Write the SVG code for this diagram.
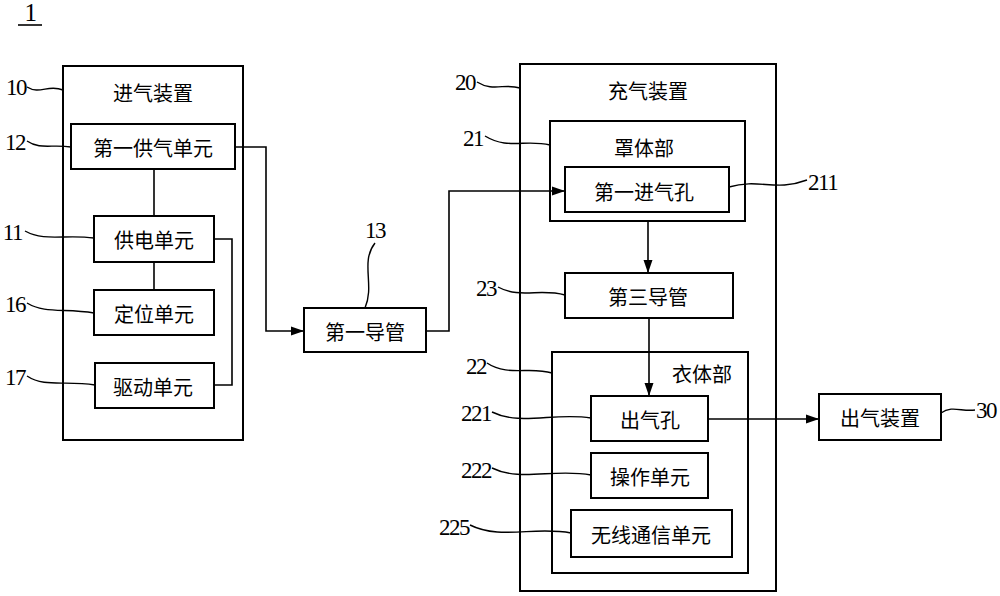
<svg xmlns="http://www.w3.org/2000/svg" width="1000" height="596" viewBox="0 0 1000 596">
<style>
.box{fill:none;stroke:#000;stroke-width:2}
.ln{fill:none;stroke:#000;stroke-width:1.6}
.ld{fill:none;stroke:#000;stroke-width:1.4}
.t{font-family:"Noto Sans CJK SC","Noto Sans CJK TC",sans-serif;font-size:20px;text-anchor:middle;dominant-baseline:central;fill:#000}
.n{font-family:"Liberation Serif",serif;font-size:23px;fill:#000;letter-spacing:-1.5px}
.e{text-anchor:end}
.m{text-anchor:middle}
</style>
<defs>
<marker id="ar" markerUnits="userSpaceOnUse" markerWidth="14" markerHeight="10" refX="13" refY="5" orient="auto">
<path d="M0,0.5 L13,5 L0,9.5 Z" fill="#000"/>
</marker>
</defs>
<rect width="1000" height="596" fill="#fff"/>

<g id="fig-label">
<text class="n m" x="30" y="21" style="font-size:25px">1</text>
<line x1="18" y1="25" x2="42" y2="25" stroke="#000" stroke-width="1.6"/>
</g>

<g id="n10">
<rect class="box" x="63" y="66" width="180" height="374"/>
<text class="t" x="153" y="92">进气装置</text>
</g>
<g id="n12">
<rect class="box" x="71" y="124" width="164" height="45"/>
<text class="t" x="153" y="147">第一供气单元</text>
</g>
<g id="n11">
<rect class="box" x="94" y="216" width="120" height="46"/>
<text class="t" x="154" y="239">供电单元</text>
</g>
<g id="n16">
<rect class="box" x="94" y="290" width="120" height="45"/>
<text class="t" x="154" y="313">定位单元</text>
</g>
<g id="n17">
<rect class="box" x="95" y="363" width="119" height="45"/>
<text class="t" x="153" y="386">驱动单元</text>
</g>
<g id="n13">
<rect class="box" x="304" y="308" width="122" height="44"/>
<text class="t" x="365" y="331">第一导管</text>
</g>
<g id="n20">
<rect class="box" x="520" y="64" width="256" height="527"/>
<text class="t" x="648" y="90">充气装置</text>
</g>
<g id="n21">
<rect class="box" x="550" y="121" width="195" height="100"/>
<text class="t" x="644" y="147">罩体部</text>
</g>
<g id="n211">
<rect class="box" x="565" y="167" width="164" height="45"/>
<text class="t" x="644" y="191">第一进气孔</text>
</g>
<g id="n23">
<rect class="box" x="565" y="273" width="168" height="45"/>
<text class="t" x="648" y="296">第三导管</text>
</g>
<g id="n22">
<rect class="box" x="552" y="352" width="196" height="221"/>
<text class="t" x="702" y="373">衣体部</text>
</g>
<g id="n221">
<rect class="box" x="591" y="396" width="117" height="45"/>
<text class="t" x="650" y="419">出气孔</text>
</g>
<g id="n222">
<rect class="box" x="591" y="453" width="117" height="45"/>
<text class="t" x="650" y="476">操作单元</text>
</g>
<g id="n225">
<rect class="box" x="571" y="510" width="161" height="47"/>
<text class="t" x="651" y="534">无线通信单元</text>
</g>
<g id="n30">
<rect class="box" x="819" y="394" width="122" height="46"/>
<text class="t" x="880" y="417">出气装置</text>
</g>

<g id="connectors">
<path class="ln" d="M154,169 V216"/>
<path class="ln" d="M154,262 V290"/>
<path class="ln" d="M214,239 H232 V385 H214"/>
<path class="ln" d="M235,147 H266 V331 H304" marker-end="url(#ar)"/>
<path class="ln" d="M426,331 H449 V191 H565" marker-end="url(#ar)"/>
<path class="ln" d="M648,221 V273" marker-end="url(#ar)"/>
<path class="ln" d="M649,318 V396" marker-end="url(#ar)"/>
<path class="ln" d="M708,419 H819" marker-end="url(#ar)"/>
</g>

<g id="leaders">
<path class="ld" d="M27,87 C40,95 48,84 63,90"/>
<path class="ld" d="M27,141 C40,150 52,144 71,147"/>
<path class="ld" d="M25,231 C45,242 65,234 94,238"/>
<path class="ld" d="M27,303 C45,314 65,308 94,313"/>
<path class="ld" d="M27,376 C45,388 65,380 95,385"/>
<path class="ld" d="M375,243 C360,262 375,285 365,308"/>
<path class="ld" d="M477,82 C493,92 505,83 520,88"/>
<path class="ld" d="M485,136 C508,150 525,139 550,145"/>
<path class="ld" d="M498,287 C520,299 540,288 565,295"/>
<path class="ld" d="M487,363 C508,377 530,366 552,373"/>
<path class="ld" d="M492,412 C520,426 555,412 591,418"/>
<path class="ld" d="M492,468 C520,482 555,468 591,475"/>
<path class="ld" d="M470,525 C500,540 535,526 571,533"/>
<path class="ld" d="M729,187 C760,178 775,192 807,180"/>
<path class="ld" d="M941,413 C952,405 962,412 975,410"/>
</g>

<g id="labels">
<text class="n e" x="26" y="95">10</text>
<text class="n e" x="25" y="150">12</text>
<text class="n e" x="22" y="240">11</text>
<text class="n e" x="25" y="312">16</text>
<text class="n e" x="25" y="385">17</text>
<text class="n m" x="375" y="238">13</text>
<text class="n e" x="475" y="90">20</text>
<text class="n e" x="483" y="146">21</text>
<text class="n e" x="496" y="296">23</text>
<text class="n e" x="486" y="374">22</text>
<text class="n e" x="491" y="421">221</text>
<text class="n e" x="491" y="478">222</text>
<text class="n e" x="469" y="535">225</text>
<text class="n" x="808" y="190">211</text>
<text class="n" x="976" y="418">30</text>
</g>
</svg>
